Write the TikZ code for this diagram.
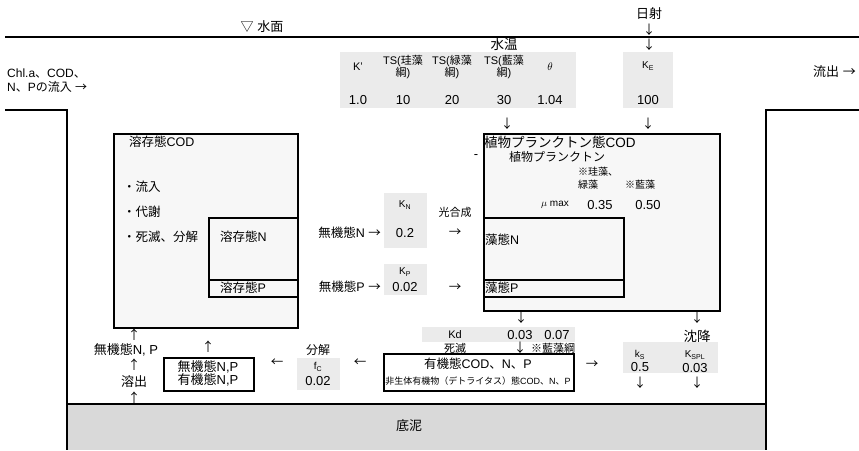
\documentclass[tikz,border=0pt]{standalone}
\usepackage{fontspec}
\setmainfont{Liberation Sans}
\newfontfamily\cjkfont{Noto Sans CJK JP}
\XeTeXinterchartokenstate=1
\newXeTeXintercharclass\CJKcls
\newcount\cjkcc
\newcommand\cjkrange[2]{\cjkcc=#1\relax\loop\XeTeXcharclass\cjkcc=\CJKcls\relax\ifnum\cjkcc<#2\relax\advance\cjkcc by 1\relax\repeat}
\cjkrange{"2190}{"2193}
\cjkrange{"203B}{"203B}
\cjkrange{"25BD}{"25BD}
\cjkrange{"3000}{"30FF}
\cjkrange{"4E00}{"9FFF}
\cjkrange{"FF00}{"FFEF}
\XeTeXinterchartoks 0 \CJKcls = {\begingroup\cjkfont}
\XeTeXinterchartoks 4095 \CJKcls = {\begingroup\cjkfont}
\XeTeXinterchartoks \CJKcls 0 = {\endgroup}
\XeTeXinterchartoks \CJKcls 4095 = {\endgroup}
\definecolor{parfill}{HTML}{EBEBEB}
\definecolor{boxfill}{HTML}{F7F7F7}
\definecolor{sedfill}{HTML}{D9D9D9}
\newcommand\fsz[1]{\fontsize{#1}{#1}\selectfont}
\tikzset{
  lbl/.style={inner sep=0pt, font=\fsz{12.5}},
  lblL/.style={inner sep=0pt, font=\fsz{13}},
  lblM/.style={inner sep=0pt, font=\fsz{12}},
  lblS/.style={inner sep=0pt, font=\fsz{11}},
  lblX/.style={inner sep=0pt, font=\fsz{10}},
  lblT/.style={inner sep=0pt, font=\fsz{10}},
  lblB/.style={inner sep=0pt, font=\fsz{13.5}},
  lblV/.style={inner sep=0pt, font=\fsz{13}},
  wall/.style={line width=2pt},
  mbox/.style={draw, line width=1.6pt, fill=boxfill, anchor=north west, inner sep=0pt},
  sbox/.style={draw, line width=1.6pt, anchor=north west, inner sep=0pt},
  pbox/.style={fill=parfill, anchor=north west, inner sep=0pt},
}
\newcommand\boxnode[6]{% style, name, x1, y1, x2, y2
  \node[#1, minimum width={(#5-#3)*1pt}, minimum height={(#6-#4)*1pt}] (#2) at (#3,#4) {};}
\begin{document}
\begin{tikzpicture}[x=1pt,y=-1pt]
\path[use as bounding box] (0,0) rectangle (859,450);
% sediment
\boxnode{pbox, fill=sedfill}{sed}{67}{404}{766}{450}
\draw[wall] (67,404) -- (766,404);
\node[lblL] (deino) at (409,426) {底泥};
% water surface and walls
\draw[wall] (5,37) -- (859,37);
\draw[wall] (5,110) -- (67,110) -- (67,450);
\draw[wall] (859,110) -- (766,110) -- (766,450);
\node[lblL] (surf) at (262,27) {▽ 水面};
\node[lblL] (sun) at (649,14) {日射};
\node[lbl] (sunA1) at (649,30) {↓};
\node[lbl] (sunA2) at (649,45) {↓};
\node[lblM, anchor=west] (inflow1) at (7,73) {Chl.a、COD、};
\node[lblM, anchor=west] (inflow2) at (7,87) {N、Pの流入 →};
\node[lblL, anchor=west] (outflow) at (813,72) {流出 →};
% parameter table
\boxnode{pbox}{partab}{340}{52}{576}{108}
\node[lblB] (suion) at (504,44) {水温};
\node[lblS] (kprime) at (358,67) {K'};
\node[lblS] (ts1a) at (403,61) {TS(珪藻};
\node[lblS] (ts1b) at (403,73) {綱)};
\node[lblS] (ts2a) at (452,61) {TS(緑藻};
\node[lblS] (ts2b) at (452,73) {綱)};
\node[lblS] (ts3a) at (504,61) {TS(藍藻};
\node[lblS] (ts3b) at (504,73) {綱)};
\node[lblS] (theta) at (550,67) {$\theta$};
\node[lblV] (v1) at (358,100) {1.0};
\node[lblV] (v2) at (403,100) {10};
\node[lblV] (v3) at (452,100) {20};
\node[lblV] (v4) at (504,100) {30};
\node[lblV] (v5) at (550,100) {1.04};
\boxnode{pbox}{kebox}{623}{52}{673}{108}
\node[lblT] (ke) at (648,66) {K\textsubscript{E}};
\node[lblV] (kev) at (648,100) {100};
\node[lbl] (tA) at (507,124) {↓};
\node[lbl] (keA) at (648,124) {↓};
\node[lblL] (dash) at (476,157) {-};
% dissolved COD box
\boxnode{mbox}{cod}{113}{133}{297}{327}
\node[lbl, anchor=west] (codT) at (129,142) {溶存態COD};
\node[lbl, anchor=west] (c1) at (123,187) {・流入};
\node[lbl, anchor=west] (c2) at (123,212) {・代謝};
\node[lbl, anchor=west] (c3) at (123,237) {・死滅、分解};
\boxnode{sbox}{dn}{208}{217}{297}{279}
\node[lbl, anchor=west] (dnT) at (220,237) {溶存態N};
\boxnode{sbox}{dp}{208}{279}{297}{296}
\node[lbl, anchor=west] (dpT) at (220,288) {溶存態P};
% middle
\node[lbl, anchor=east] (inN) at (381,233) {無機態N →};
\boxnode{pbox}{knbox}{384}{193}{427}{248}
\node[lblT] (kn) at (405,205) {K\textsubscript{N}};
\node[lblV] (knv) at (405,233) {0.2};
\node[lblS] (kou) at (455,212) {光合成};
\node[lbl] (arrN) at (455,233) {→};
\node[lbl, anchor=east] (inP) at (381,287) {無機態P →};
\boxnode{pbox}{kpbox}{384}{264}{427}{295}
\node[lblT] (kpl) at (405,272) {K\textsubscript{P}};
\node[lblV] (kpv) at (405,287) {0.02};
\node[lbl] (arrP) at (455,288) {→};
% phytoplankton box
\boxnode{mbox}{phy}{483}{133}{719}{310}
\node[lblB, anchor=west] (phyT) at (484,142) {植物プランクトン態COD};
\node[lblM] (phy2) at (557,157) {植物プランクトン};
\node[lblX, anchor=west] (kei) at (578,172) {※珪藻、};
\node[lblX, anchor=west] (ryoku) at (578,185) {緑藻};
\node[lblX, anchor=west] (ran) at (625,185) {※藍藻};
\node[lblX] (mumax) at (555,205) {$\mu$ max};
\node[lblV] (mu1) at (600,205) {0.35};
\node[lblV] (mu2) at (648,205) {0.50};
\boxnode{sbox}{an}{483}{217}{623}{279}
\node[lbl, anchor=west] (anT) at (485,240) {藻態N};
\boxnode{sbox}{ap}{483}{279}{623}{296}
\node[lbl, anchor=west] (apT) at (485,288) {藻態P};
% death / decomposition
\node[lbl] (dA) at (521,318) {↓};
\boxnode{pbox}{kdbox}{422}{327}{575}{342}
\node[lblS] (kd) at (455,335) {Kd};
\node[lblV] (kd1) at (520,335) {0.03};
\node[lblV] (kd2) at (557,335) {0.07};
\node[lblS] (shimetsu) at (455,348) {死滅};
\node[lbl] (dA2) at (520,348) {↓};
\node[lblS] (ranko) at (553,348) {※藍藻綱};
\boxnode{sbox}{org}{383}{353}{573}{390}
\node[inner sep=0pt, font=\fsz{12.5}] (org1) at (478,364) {有機態COD、N、P};
\node[inner sep=0pt, font=\fsz{9}] (org2) at (478,381) {非生体有機物（デトライタス）態COD、N、P};
\node[lbl] (arrO) at (592,365) {→};
% sedimentation
\node[lbl] (sedA) at (697,318) {↓};
\node[lblB] (chinko) at (697,336) {沈降};
\boxnode{pbox}{ksbox}{623}{342}{718}{373}
\node[lblT] (ks) at (640,355) {k\textsubscript{S}};
\node[lblV] (ksv) at (640,367) {0.5};
\node[lblT] (kspl) at (695,355) {K\textsubscript{SPL}};
\node[lblV] (ksplv) at (695,368) {0.03};
\node[lbl] (ksA) at (640,383) {↓};
\node[lbl] (ksplA) at (697,383) {↓};
% bottom left
\node[lbl] (arrL2) at (360,363) {←};
\node[lblM] (bunkai) at (318,350) {分解};
\boxnode{pbox}{fcbox}{297}{358}{340}{390}
\node[lblT] (fc) at (318,367) {f\textsubscript{C}};
\node[lblV] (fcv) at (318,381) {0.02};
\node[lbl] (arrL1) at (277,363) {←};
\boxnode{sbox}{nbox}{163}{357}{253}{390}
\node[lblL] (mk1) at (208,367) {無機態N,P};
\node[lblL] (mk2) at (208,380) {有機態N,P};
\node[lbl] (upA) at (208,347) {↑};
\node[lbl] (lA1) at (134,335) {↑};
\node[lblL] (lmuki) at (126,350) {無機態N, P};
\node[lbl] (lA2) at (134,365) {↑};
\node[lblL] (youshutsu) at (134,382) {溶出};
\node[lbl] (lA3) at (134,398) {↑};
\end{tikzpicture}
\end{document}
